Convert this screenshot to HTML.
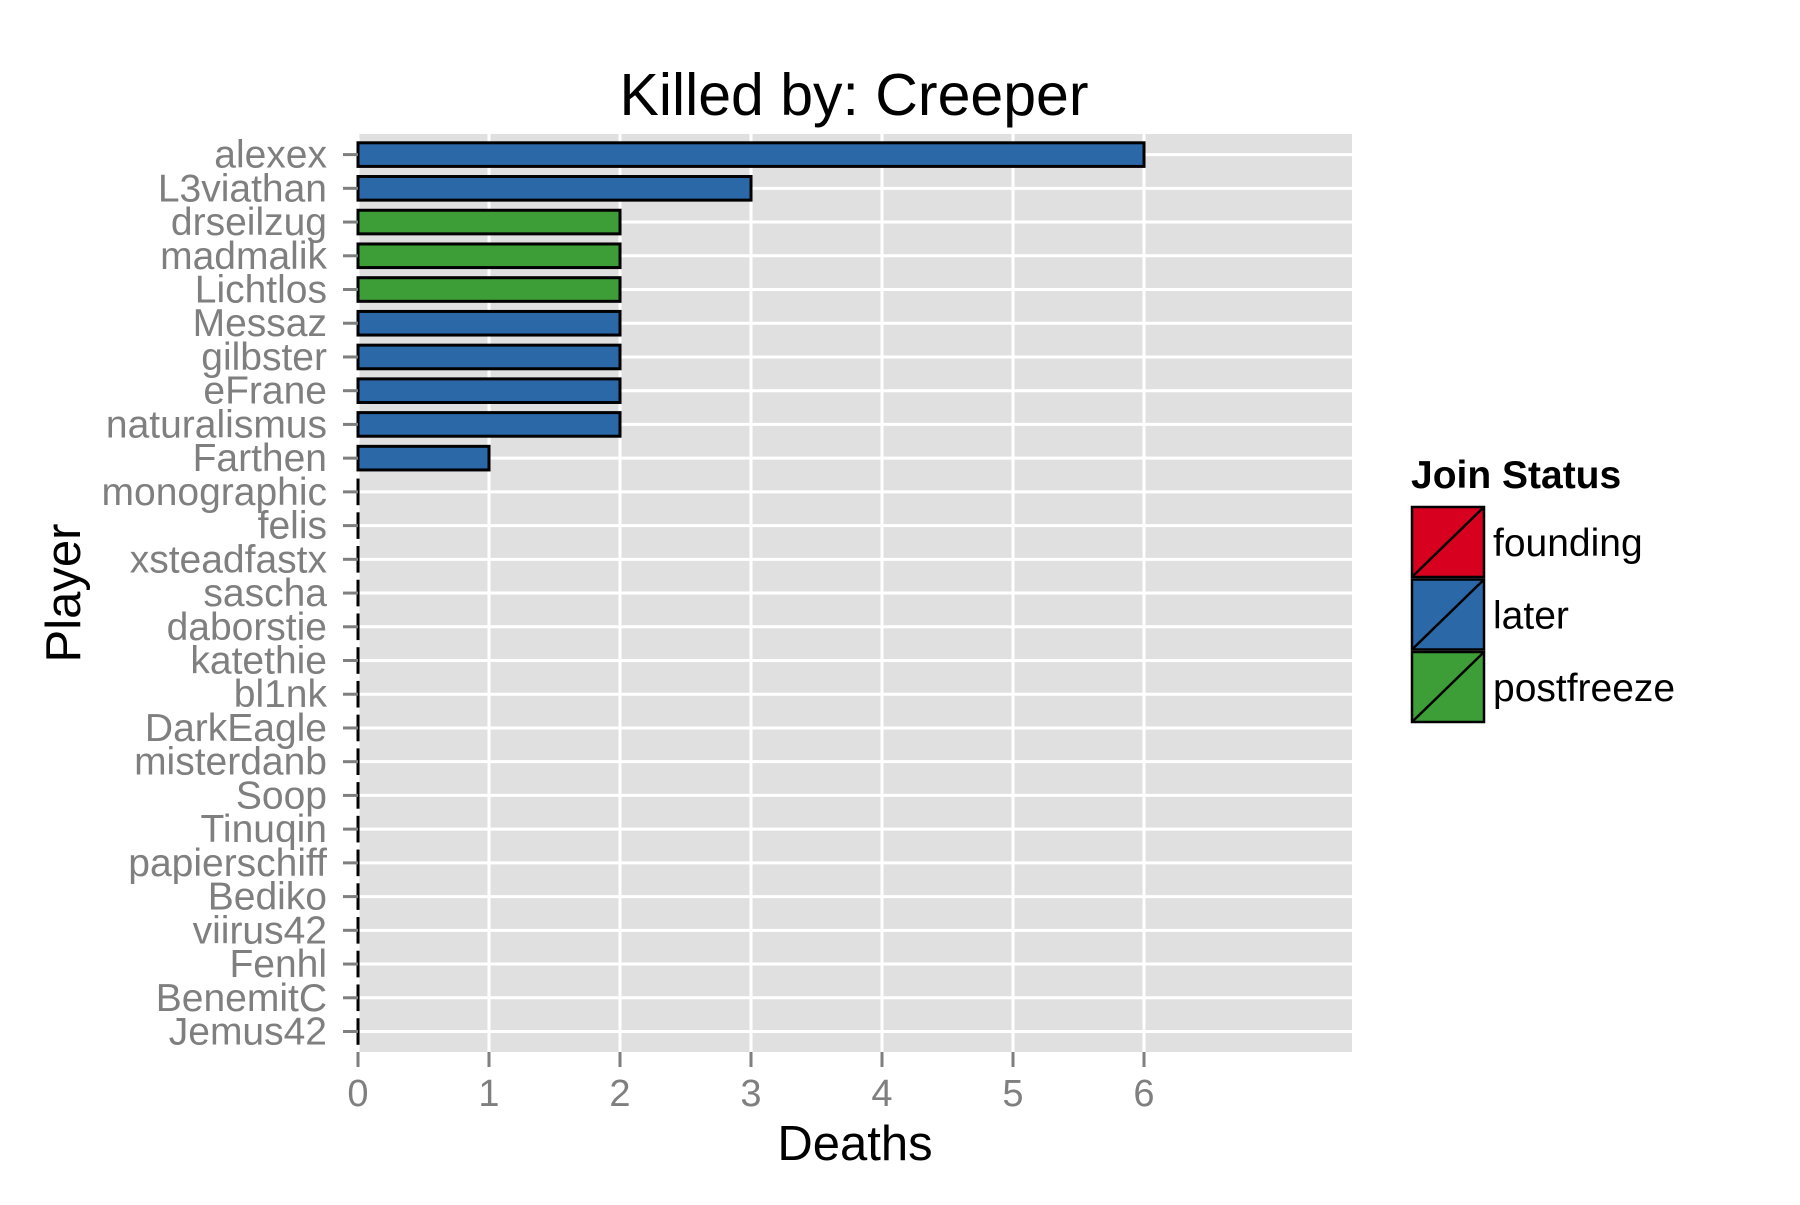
<!DOCTYPE html>
<html><head><meta charset="utf-8"><style>
body{margin:0;background:#fff}
svg text{font-family:"Liberation Sans",Arial,sans-serif}
</style></head><body>
<svg width="1800" height="1200" xmlns="http://www.w3.org/2000/svg">
<g id="root"></g>
</svg>
<script>
const players=["alexex","L3viathan","drseilzug","madmalik","Lichtlos","Messaz","gilbster","eFrane","naturalismus","Farthen","monographic","felis","xsteadfastx","sascha","daborstie","katethie","bl1nk","DarkEagle","misterdanb","Soop","Tinuqin","papierschiff","Bediko","viirus42","Fenhl","BenemitC","Jemus42"];
const deaths=[6,3,2,2,2,2,2,2,2,1,0,0,0,0,0,0,0,0,0,0,0,0,0,0,0,0,0];
const status=["later","later","postfreeze","postfreeze","postfreeze","later","later","later","later","later","later","later","later","later","later","later","later","later","later","later","later","later","later","later","later","later","later"];
const xTicks=[0,1,2,3,4,5,6];
const statuses=["founding","later","postfreeze"];
const colors={founding:"#d7001f",later:"#2b68a8",postfreeze:"#3d9e37"};
const NS="http://www.w3.org/2000/svg";
const root=document.getElementById('root');
const L=358,R=1352,T=134,B=1052,UNIT=131;
const xs=v=>L+v*UNIT;
const step=(1031.5-154.6)/(players.length-1);
const ys=i=>154.6+i*step;
function mk(tag,attrs,parent){const e=document.createElementNS(NS,tag);for(const k in attrs)e.setAttribute(k,attrs[k]);(parent||root).appendChild(e);return e;}
let el=mk('rect',{x:L,y:T,width:R-L,height:B-T,fill:'#e0e0e0'});


players.forEach((p,i)=>{
  let g=mk('line',{x1:L,x2:R,y1:ys(i),y2:ys(i),stroke:'#fff','stroke-width':3});
  
  
});
xTicks.forEach(t=>{
  let g=mk('line',{x1:xs(t),x2:xs(t),y1:T,y2:B,stroke:'#fff','stroke-width':3});
  
  
  let tk=mk('line',{x1:xs(t),x2:xs(t),y1:B,y2:B+15,stroke:'#7f7f7f','stroke-width':3});
  
  
  let tl=mk('text',{x:xs(t),y:B+54,'text-anchor':'middle','font-size':38,fill:'#7f7f7f'});
  tl.textContent=t;
  
  
});
const bh=step*0.7;
players.forEach((p,i)=>{
  let b=mk('rect',{x:xs(0),y:ys(i)-bh/2,width:Math.max(xs(deaths[i])-xs(0),0.01),height:bh,fill:colors[status[i]],stroke:'#000','stroke-width':3});
  
  
  let tk=mk('line',{x1:L-15,x2:L,y1:ys(i),y2:ys(i),stroke:'#7f7f7f','stroke-width':3});
  
  
  let tl=mk('text',{x:L-31,y:ys(i)+13,'text-anchor':'end','font-size':39,fill:'#7f7f7f'});
  tl.textContent=p;
  
  
});
let t=mk('text',{x:854,y:115,'text-anchor':'middle','font-size':59,fill:'#000'});t.textContent='Killed by: Creeper';


t=mk('text',{x:855,y:1160,'text-anchor':'middle','font-size':49,fill:'#000'});t.textContent='Deaths';


t=mk('text',{x:0,y:0,'text-anchor':'middle','font-size':49,fill:'#000',transform:'translate(80,593) rotate(-90)'});t.textContent='Player';


t=mk('text',{x:1411,y:488,'font-size':39,'font-weight':'bold',fill:'#000'});t.textContent='Join Status';


statuses.forEach((s,i)=>{
  const y0=507+i*72.5;
  let r=mk('rect',{x:1412,y:y0,width:72,height:70,fill:colors[s],stroke:'#000','stroke-width':2.5});
  
  
  let d=mk('line',{x1:1412,y1:y0+70,x2:1484,y2:y0,stroke:'#000','stroke-width':2.5});
  
  
  let l=mk('text',{x:1493,y:y0+49,'font-size':39,fill:'#000'});l.textContent=s;
  
  
});
</script>
</body></html>
